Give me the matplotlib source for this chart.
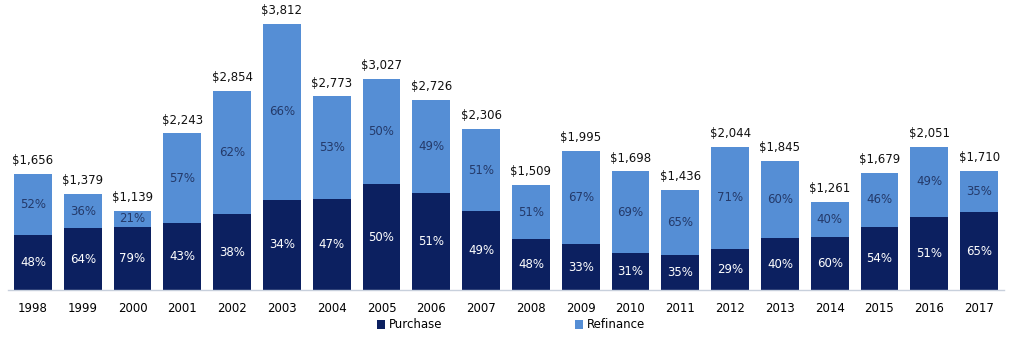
import matplotlib
matplotlib.use("Agg")
from matplotlib import pyplot as plt
import numpy as np

years = ["1998", "1999", "2000", "2001", "2002", "2003", "2004", "2005", "2006", "2007",
         "2008", "2009", "2010", "2011", "2012", "2013", "2014", "2015", "2016", "2017"]
totals = [1656, 1379, 1139, 2243, 2854, 3812, 2773, 3027, 2726, 2306,
          1509, 1995, 1698, 1436, 2044, 1845, 1261, 1679, 2051, 1710]
purchase_pct = [48, 64, 79, 43, 38, 34, 47, 50, 51, 49,
                48, 33, 31, 35, 29, 40, 60, 54, 51, 65]
refinance_pct = [52, 36, 21, 57, 62, 66, 53, 50, 49, 51,
                 51, 67, 69, 65, 71, 60, 40, 46, 49, 35]

c_purchase = "#0c2060"
c_refi = "#558ed5"

totals = np.array(totals, dtype=float)
purchase = totals * np.array(purchase_pct) / 100
refi = totals - purchase
x = np.arange(len(years))

fig = plt.figure(figsize=(10.12, 3.41), dpi=100)
ax = fig.add_axes([8/1012, 1 - 290/341, 996/1012, 290/341])

b1 = ax.bar(x, purchase, width=0.76, color=c_purchase, label="Purchase")
b2 = ax.bar(x, refi, width=0.76, bottom=purchase, color=c_refi, label="Refinance")

for i in range(len(x)):
    ax.text(x[i], purchase[i] / 2, f"{purchase_pct[i]}%", ha="center", va="center",
            color="white", fontsize=8.5)
    ax.text(x[i], purchase[i] + refi[i] / 2, f"{refinance_pct[i]}%", ha="center", va="center",
            color="#243a6a", fontsize=8.5)
    ax.annotate(f"${int(totals[i]):,}", (x[i], totals[i]), xytext=(0, 5),
                textcoords="offset points", ha="center", va="bottom",
                color="#111111", fontsize=8.5)

ax.set_xlim(-0.5, len(x) - 0.5)
ax.set_ylim(0, 4155)
ax.set_xticks(x)
ax.set_xticklabels(years, fontsize=8.5)
ax.tick_params(axis="x", length=0, pad=9)
ax.set_yticks([])
for s in ["top", "right", "left"]:
    ax.spines[s].set_visible(False)
ax.spines["bottom"].set_color("#c8d0dc")
ax.spines["bottom"].set_linewidth(1)

fig.legend(handles=[b1, b2], loc="center", bbox_to_anchor=(511/1012, 1 - 325/341),
           ncol=2, frameon=False, fontsize=8.5, columnspacing=11.2,
           handlelength=0.7, handleheight=0.7, handletextpad=0.3, borderpad=0)

fig.savefig("out.png", dpi=100)
